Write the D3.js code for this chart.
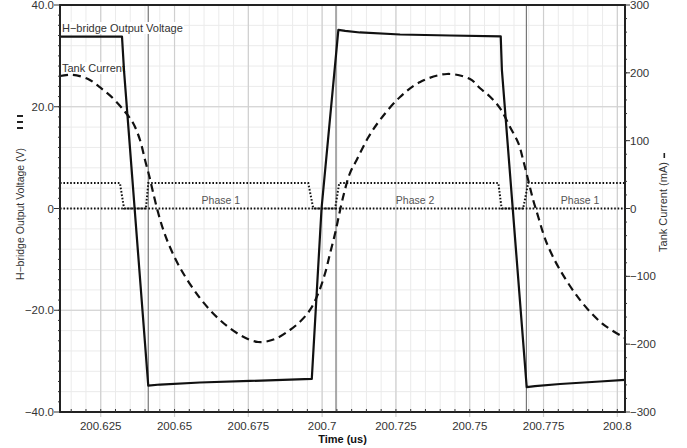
<!DOCTYPE html>
<html>
<head>
<meta charset="utf-8">
<script src="https://cdn.jsdelivr.net/npm/d3@7"></script>
<style>
  body { margin: 0; background: #fff; }
  text { font-family: "Liberation Sans", Arial, sans-serif; }
</style>
</head>
<body>
<div id="chart"></div>
<script>
// x axis (time, us)
var timeDomain = [200.6112, 200.8026];
var xTicks = [200.625, 200.65, 200.675, 200.7, 200.725, 200.75, 200.775, 200.8];
var xTickLabels = ["200.625", "200.65", "200.675", "200.7", "200.725", "200.75", "200.775", "200.8"];

// left axis (V)
var vTicks = [40, 20, 0, -20, -40];
var vTickLabels = ["40.0", "20.0", "0", "\u221220.0", "\u221240.0"];

// right axis (mA)
var iTicks = [300, 200, 100, 0, -100, -200, -300];
var iTickLabels = ["300", "200", "100", "0", "\u2212100", "\u2212200", "\u2212300"];

// H-bridge output voltage
var voltageT = [200.6112, 200.6322, 200.6329, 200.6411, 200.6451, 200.6586, 200.6756, 200.6965,
  200.6998, 200.7055, 200.7078, 200.7128, 200.7264, 200.7433, 200.7605, 200.7609, 200.7693,
  200.7721, 200.7806, 200.7941, 200.8026];
var voltageV = [33.8, 33.8, 27.0, -34.8, -34.6, -34.2, -33.9, -33.5,
  0, 35.1, 34.9, 34.6, 34.2, 34.0, 33.85, 27.2, -35.1,
  -34.9, -34.5, -34.0, -33.7];

// tank current
var currentT = [200.6112, 200.6153, 200.6207, 200.6248, 200.6292, 200.6332, 200.6360, 200.6383,
  200.6400, 200.6415, 200.6428, 200.6445, 200.6462, 200.6479, 200.6519, 200.6586, 200.6654,
  200.6722, 200.6783, 200.6840, 200.6891, 200.6925, 200.6959, 200.6987, 200.7010, 200.7027,
  200.7044, 200.7061, 200.7077, 200.7094, 200.7117, 200.7155, 200.7196, 200.7264, 200.7332,
  200.7423, 200.7501, 200.7535, 200.7569, 200.7603, 200.7636, 200.7665, 200.7681, 200.7698,
  200.7715, 200.7732, 200.7749, 200.7766, 200.7806, 200.7874, 200.7948, 200.8026];
var currentI = [195.3, 197.2, 190.9, 178.4, 162.2, 142.7, 125.6, 101.0,
  71.5, 46.9, 22.4, -7.1, -31.7, -51.3, -87.7, -132.0, -164.4,
  -186.5, -196.8, -192.4, -179.1, -166.9, -149.6, -125.0, -95.5, -66.0,
  -36.6, -2.2, 27.3, 51.9, 71.5, 103.9, 130.5, 164.4, 186.5,
  198.3, 190.9, 177.2, 164.8, 147.7, 120.6, 96.1, 71.5, 42.0,
  12.5, -12.1, -36.6, -56.3, -90.7, -135.0, -169.3, -191.0];

// phase signal (dotted)
var phaseT = [200.6112, 200.6315, 200.6329, 200.6403, 200.6411, 200.6953, 200.6970, 200.7044,
  200.7058, 200.7597, 200.7608, 200.7681, 200.7698, 200.8026];
var phaseV = [5, 5, 0, 0, 5, 5, 0, 0, 5, 5, 0, 0, 5, 5];

var cursorTimes = [200.6411, 200.7047, 200.7692];
var phaseLabels = ["Phase 1", "Phase 2", "Phase 1"];
var phaseLabelT = [200.6657, 200.7315, 200.7874];

draw();

function draw() {
	var W = 687, H = 448;
	var left = 60, right = 625, top = 5, bottom = 412;

	var svg = d3.select("#chart").append("svg")
		.attr("width", W).attr("height", H);

	var x = d3.scaleLinear().domain(timeDomain).range([left, right]);
	var yV = d3.scaleLinear().domain([-40, 40]).range([bottom, top]);
	var yI = d3.scaleLinear().domain([-300, 300]).range([bottom, top]);

	// grid
	var grid = svg.append("g");
	var minorX = d3.range(200.615, 200.8026, 0.005);
	grid.selectAll(".mx").data(minorX).enter().append("line")
		.attr("x1", d => x(d)).attr("x2", d => x(d))
		.attr("y1", top).attr("y2", bottom)
		.attr("stroke", "#ebebeb").attr("stroke-width", 1);
	grid.selectAll(".my").data(d3.range(-36, 40, 4)).enter().append("line")
		.attr("x1", left).attr("x2", right)
		.attr("y1", d => yV(d)).attr("y2", d => yV(d))
		.attr("stroke", "#ebebeb").attr("stroke-width", 1);
	grid.selectAll(".gx").data(xTicks).enter().append("line")
		.attr("x1", d => x(d)).attr("x2", d => x(d))
		.attr("y1", top).attr("y2", bottom + 5)
		.attr("stroke", "#cfcfcf").attr("stroke-width", 1.2);
	grid.selectAll(".gy").data([20, -20]).enter().append("line")
		.attr("x1", left).attr("x2", right)
		.attr("y1", d => yV(d)).attr("y2", d => yV(d))
		.attr("stroke", "#cfcfcf").attr("stroke-width", 1.2);

	// cursors
	svg.selectAll(".cur").data(cursorTimes).enter().append("line")
		.attr("x1", d => x(d)).attr("x2", d => x(d))
		.attr("y1", top).attr("y2", bottom)
		.attr("stroke", "#777").attr("stroke-width", 1.2);

	// legend labels in plot
	var legend = [{ t: "H\u2212bridge Output Voltage", v: 34.7 }, { t: "Tank Current", v: 26.8 }];
	legend.forEach(function(d) {
		var tx = svg.append("text")
			.attr("x", left + 2).attr("y", yV(d.v))
			.style("font-size", "11px").style("fill", "#333")
			.text(d.t);
		var bb = tx.node().getBBox();
		svg.insert("rect", "text")
			.attr("x", bb.x - 1).attr("y", bb.y)
			.attr("width", bb.width + 2).attr("height", bb.height)
			.attr("fill", "#fff");
	});

	// phase labels
	svg.selectAll(".ph").data(phaseLabels).enter().append("text")
		.attr("x", (d, i) => x(phaseLabelT[i]))
		.attr("y", yV(0.8))
		.attr("text-anchor", "middle")
		.style("font-size", "10.5px").style("fill", "#555")
		.text(d => d);

	// zero reference (dotted)
	svg.append("line")
		.attr("x1", x(timeDomain[0])).attr("x2", x(timeDomain[1]))
		.attr("y1", yV(0)).attr("y2", yV(0))
		.attr("stroke", "#111").attr("stroke-width", 2)
		.attr("stroke-dasharray", "1.6,1.8");

	var phaseLine = d3.line().x(d => x(d[0])).y(d => yV(d[1]));
	svg.append("path")
		.datum(d3.zip(phaseT, phaseV))
		.attr("d", phaseLine)
		.attr("fill", "none").attr("stroke", "#111").attr("stroke-width", 2)
		.attr("stroke-dasharray", "1.6,1.8");

	var curLine = d3.line().x(d => x(d[0])).y(d => yI(d[1])).curve(d3.curveCatmullRom);
	svg.append("path")
		.datum(d3.zip(currentT, currentI))
		.attr("d", curLine)
		.attr("fill", "none").attr("stroke", "#111").attr("stroke-width", 2.2)
		.attr("stroke-dasharray", "8,5");

	var vLine = d3.line().x(d => x(d[0])).y(d => yV(d[1]));
	svg.append("path")
		.datum(d3.zip(voltageT, voltageV))
		.attr("d", vLine)
		.attr("fill", "none").attr("stroke", "#111").attr("stroke-width", 2.2)
		.attr("stroke-linejoin", "round");

	// frame
	svg.append("rect")
		.attr("x", left).attr("y", top)
		.attr("width", right - left).attr("height", bottom - top)
		.attr("fill", "none").attr("stroke", "#222").attr("stroke-width", 2);

	// left axis ticks
	var ax = svg.append("g");
	ax.selectAll(".lt").data(d3.range(-38, 40, 2)).enter().append("line")
		.attr("x1", left - 2).attr("x2", left)
		.attr("y1", d => yV(d)).attr("y2", d => yV(d))
		.attr("stroke", "#333");
	ax.selectAll(".ltm").data(vTicks).enter().append("line")
		.attr("x1", left - 6).attr("x2", left)
		.attr("y1", d => yV(d)).attr("y2", d => yV(d))
		.attr("stroke", "#333");
	ax.selectAll(".ll").data(vTicks).enter().append("text")
		.attr("x", left - 6).attr("y", d => yV(d) + 4)
		.attr("text-anchor", "end")
		.style("font-size", "11.5px").style("fill", "#333")
		.text((d, i) => vTickLabels[i]);

	// right axis ticks
	ax.selectAll(".rt").data(d3.range(-280, 300, 20)).enter().append("line")
		.attr("x1", right).attr("x2", right + 2)
		.attr("y1", d => yI(d)).attr("y2", d => yI(d))
		.attr("stroke", "#333");
	ax.selectAll(".rtm").data(iTicks).enter().append("line")
		.attr("x1", right).attr("x2", right + 5)
		.attr("y1", d => yI(d)).attr("y2", d => yI(d))
		.attr("stroke", "#333");
	ax.selectAll(".rl").data(iTicks).enter().append("text")
		.attr("x", right + 5).attr("y", d => yI(d) + 4)
		.style("font-size", "11.5px").style("fill", "#333")
		.text((d, i) => iTickLabels[i]);

	// bottom axis
	ax.selectAll(".bt").data(minorX).enter().append("line")
		.attr("x1", d => x(d)).attr("x2", d => x(d))
		.attr("y1", bottom - 3).attr("y2", bottom)
		.attr("stroke", "#333");
	ax.selectAll(".bl").data(xTicks).enter().append("text")
		.attr("x", d => x(d)).attr("y", bottom + 18)
		.attr("text-anchor", "middle")
		.style("font-size", "11.5px").style("fill", "#333")
		.text((d, i) => xTickLabels[i]);

	// axis titles
	svg.append("text")
		.attr("text-anchor", "middle")
		.attr("transform", `translate(${(left + right) / 2},${H - 5})`)
		.style("font-size", "11px").style("font-weight", "bold").style("fill", "#111")
		.text("Time (us)");

	svg.append("text")
		.attr("text-anchor", "middle")
		.attr("transform", `translate(24,214) rotate(-90)`)
		.style("font-size", "10.5px").style("fill", "#333")
		.text("H\u2212bridge Output Voltage (V)");
	svg.selectAll(".lm").data([0, 1, 2]).enter().append("rect")
		.attr("x", 17).attr("y", d => 115 + d * 6)
		.attr("width", 6).attr("height", 2)
		.attr("fill", "#222");

	svg.append("text")
		.attr("text-anchor", "middle")
		.attr("transform", `translate(667,207) rotate(-90)`)
		.style("font-size", "11px").style("fill", "#333")
		.text("Tank Current (mA)");
	svg.append("rect")
		.attr("x", 663.5).attr("y", 153)
		.attr("width", 1.6).attr("height", 5)
		.attr("fill", "#222");
}
</script>
</body>
</html>
